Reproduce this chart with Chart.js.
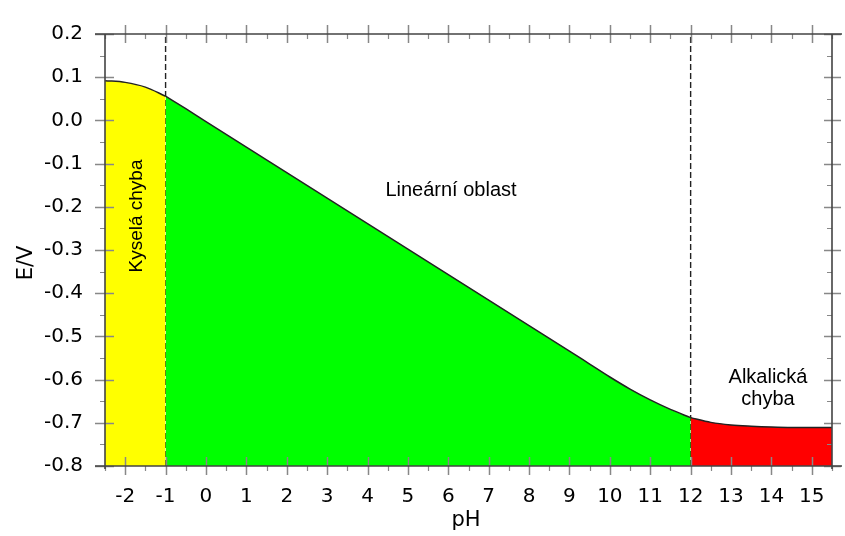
<!DOCTYPE html>
<html>
<head>
<meta charset="utf-8">
<script src="https://cdn.jsdelivr.net/npm/chart.js@4"></script>
<style>
  body { margin: 0; background: #fff; }
  canvas { display: block; }
</style>
</head>
<body>
<canvas id="myChart" width="845" height="536"></canvas>
<script>
// kyselá chyba (pH -2.5 .. -1)
const phAcid = [-2.5, -2, -1.5, -1];
const eAcid = [0.092, 0.088, 0.077, 0.056];

// lineární oblast (pH -1 .. 12)
const phLinear = [-1, -0.5, 0, 1, 2, 3, 4, 5, 6, 7, 8, 9, 9.5, 10, 10.5, 11, 11.5, 12];
const eLinear = [0.056, 0.027, -0.003, -0.062, -0.121, -0.180, -0.239, -0.298, -0.357, -0.416, -0.475, -0.534, -0.564, -0.594, -0.622, -0.647, -0.669, -0.688];

// alkalická chyba (pH 12 .. 15.5)
const phAlk = [12, 12.5, 13, 13.5, 14, 14.5, 15, 15.5];
const eAlk = [-0.688, -0.699, -0.705, -0.708, -0.710, -0.711, -0.711, -0.711];

// hranice oblastí
const borders = [-1, 12];

const xTicks = [-2, -1, 0, 1, 2, 3, 4, 5, 6, 7, 8, 9, 10, 11, 12, 13, 14, 15];
const yTicks = [-0.8, -0.7, -0.6, -0.5, -0.4, -0.3, -0.2, -0.1, 0.0, 0.1, 0.2];

const pts = (xs, ys) => xs.map((x, i) => ({ x: x, y: ys[i] }));

function area(xs, ys, color) {
    return {
        data: pts(xs, ys),
        showLine: true,
        fill: 'start',
        backgroundColor: color,
        borderColor: '#222',
        borderWidth: 1.5,
        pointRadius: 0,
        cubicInterpolationMode: 'monotone'
    };
}

function dashLine(x) {
    return {
        data: [{ x: x, y: -0.8 }, { x: x, y: 0.2 }],
        showLine: true,
        fill: false,
        borderColor: '#222',
        borderWidth: 1.4,
        borderDash: [6, 3],
        pointRadius: 0
    };
}

// osy, ticky a popisky
const frame = {
    id: 'frame',
    afterDraw(chart) {
        const ctx = chart.ctx;
        const xs = chart.scales.x, ys = chart.scales.y;
        const a = chart.chartArea;
        ctx.save();

        // ticky
        ctx.strokeStyle = '#888';
        ctx.lineWidth = 1.5;
        ctx.beginPath();
        xTicks.forEach(v => {
            const px = Math.round(xs.getPixelForValue(v)) + 0.5;
            ctx.moveTo(px, a.bottom - 9); ctx.lineTo(px, a.bottom + 9);
            ctx.moveTo(px, a.top - 9); ctx.lineTo(px, a.top + 9);
        });
        yTicks.forEach(v => {
            const py = Math.round(ys.getPixelForValue(v)) + 0.5;
            ctx.moveTo(a.left - 10, py); ctx.lineTo(a.left + 9, py);
            ctx.moveTo(a.right - 8, py); ctx.lineTo(a.right + 9, py);
        });
        ctx.stroke();
        ctx.lineWidth = 1.2;
        ctx.beginPath();
        for (let v = -2.5; v <= 15.5; v += 1) {
            const px = Math.round(xs.getPixelForValue(v)) + 0.5;
            ctx.moveTo(px, a.bottom); ctx.lineTo(px, a.bottom + 5);
            ctx.moveTo(px, a.top); ctx.lineTo(px, a.top + 5);
        }
        for (let v = -0.75; v < 0.2; v += 0.1) {
            const py = Math.round(ys.getPixelForValue(v)) + 0.5;
            ctx.moveTo(a.left - 5, py); ctx.lineTo(a.left, py);
            ctx.moveTo(a.right - 5, py); ctx.lineTo(a.right, py);
        }
        ctx.stroke();

        // čáry os
        ctx.strokeStyle = '#444';
        ctx.lineWidth = 1.6;
        ctx.beginPath();
        ctx.moveTo(a.left - 10, a.top); ctx.lineTo(a.right + 10, a.top);
        ctx.moveTo(a.left - 10, a.bottom); ctx.lineTo(a.right + 10, a.bottom);
        ctx.moveTo(a.left, a.top); ctx.lineTo(a.left, a.bottom + 3);
        ctx.moveTo(a.right, a.top); ctx.lineTo(a.right, a.bottom + 3);
        ctx.stroke();

        // popisky oblastí
        ctx.fillStyle = '#000';
        ctx.textAlign = 'center';
        ctx.textBaseline = 'middle';
        ctx.font = '20px "Liberation Sans", Arial, sans-serif';
        ctx.fillText('Lineární oblast', 451, 190);
        ctx.fillText('Alkalická', 768, 377);
        ctx.fillText('chyba', 768, 399);
        ctx.save();
        ctx.translate(137, 216);
        ctx.rotate(-Math.PI / 2);
        ctx.font = '19px "Liberation Sans", Arial, sans-serif';
        ctx.fillText('Kyselá chyba', 0, 0);
        ctx.restore();

        // názvy os
        ctx.font = '21px "DejaVu Sans", sans-serif';
        ctx.fillText('pH', 466, 521);
        ctx.save();
        ctx.translate(27, 263);
        ctx.rotate(-Math.PI / 2);
        ctx.fillText('E/V', 0, 0);
        ctx.restore();

        ctx.restore();
    }
};

const tickFont = { family: '"DejaVu Sans", sans-serif', size: 20 };

new Chart(document.getElementById('myChart'), {
    type: 'scatter',
    data: {
        datasets: [
            area(phAcid, eAcid, '#ffff00'),
            area(phLinear, eLinear, '#00ff00'),
            area(phAlk, eAlk, '#ff0000'),
            dashLine(borders[0]),
            dashLine(borders[1])
        ]
    },
    options: {
        responsive: false,
        animation: false,
        layout: { padding: { top: 18, right: 13, left: 0, bottom: 0 } },
        plugins: { legend: { display: false }, tooltip: { enabled: false } },
        scales: {
            x: {
                type: 'linear',
                min: -2.5,
                max: 15.5,
                afterBuildTicks: s => { s.ticks = xTicks.map(v => ({ value: v })); },
                afterFit: s => { s.height = 70; },
                grid: { display: false, drawTicks: false },
                border: { display: false },
                ticks: { font: tickFont, color: '#000', padding: 19, maxRotation: 0, autoSkip: false }
            },
            y: {
                min: -0.8,
                max: 0.2,
                afterBuildTicks: s => { s.ticks = yTicks.map(v => ({ value: v })); },
                afterFit: s => { s.width = 105; },
                grid: { display: false, drawTicks: false },
                border: { display: false },
                ticks: { font: tickFont, color: '#000', padding: 22, autoSkip: false, callback: v => v.toFixed(1) }
            }
        }
    },
    plugins: [frame]
});
</script>
</body>
</html>
